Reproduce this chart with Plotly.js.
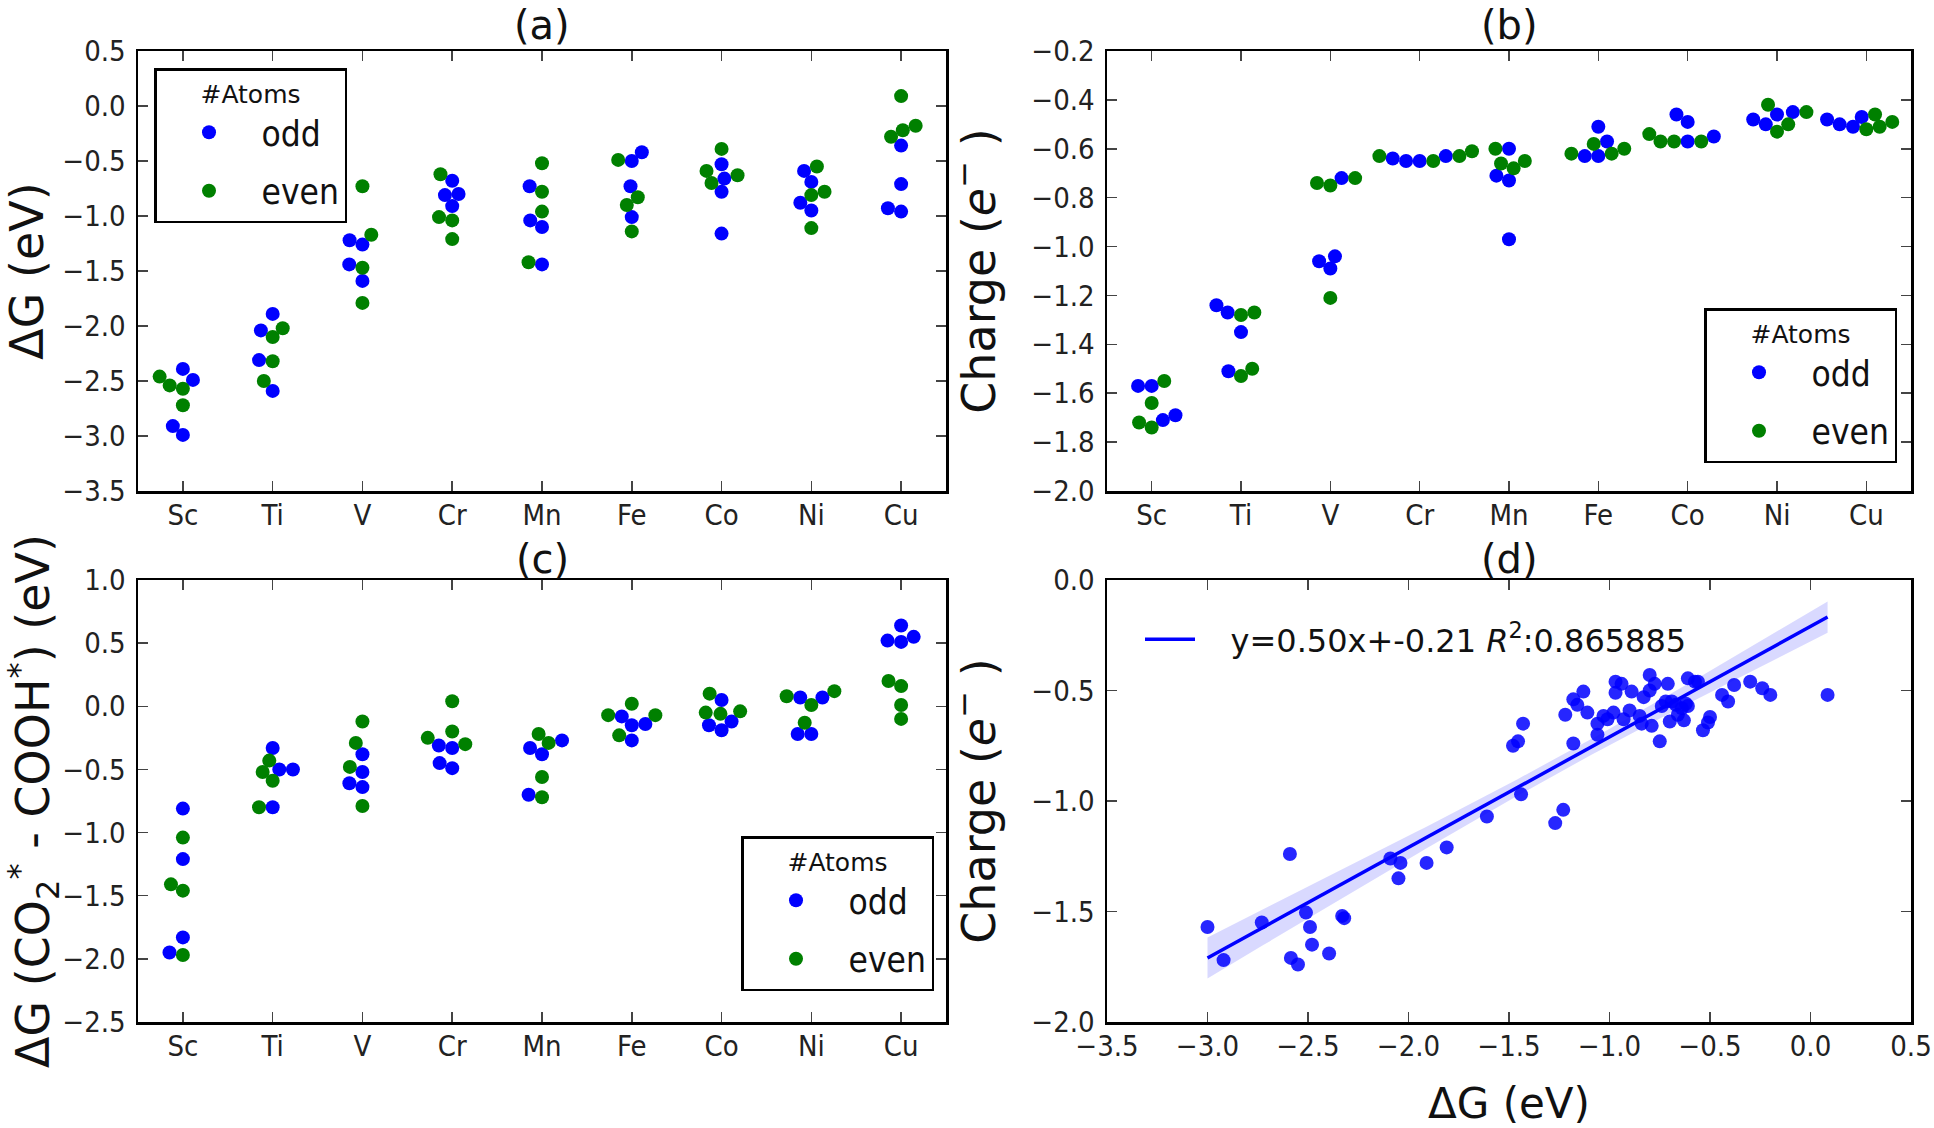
<!DOCTYPE html>
<html>
<head>
<meta charset="utf-8">
<script src="https://cdn.plot.ly/plotly-3.0.1.min.js"></script>
<style>html,body{margin:0;padding:0;background:#ffffff;}</style>
</head>
<body>
<div id="chart" style="width:1934px;height:1128px;"></div>
<script>
// ---------------- data ----------------
const categories = ['Sc', 'Ti', 'V', 'Cr', 'Mn', 'Fe', 'Co', 'Ni', 'Cu'];

// (a) ΔG (eV), per element: odd / even number of atoms
const dG_odd = [
  [-2.39, -2.49, -2.91, -2.99],
  [-1.89, -2.04, -2.31, -2.59],
  [-1.22, -1.26, -1.44, -1.59],
  [-0.68, -0.80, -0.81, -0.91],
  [-0.73, -1.04, -1.10, -1.44],
  [-0.42, -0.50, -0.73, -1.01],
  [-0.53, -0.66, -0.78, -1.16],
  [-0.59, -0.69, -0.88, -0.95],
  [-0.36, -0.71, -0.93, -0.96]
];
const dG_even = [
  [-2.46, -2.54, -2.57, -2.72],
  [-2.02, -2.10, -2.32, -2.50],
  [-0.73, -1.17, -1.47, -1.79],
  [-0.62, -1.01, -1.04, -1.21],
  [-0.52, -0.78, -0.96, -1.42],
  [-0.49, -0.83, -0.90, -1.14],
  [-0.39, -0.59, -0.63, -0.70],
  [-0.55, -0.78, -0.81, -1.11],
  [0.09, -0.18, -0.22, -0.28]
];

// (b) Charge (e-)
const charge_odd = [
  [-1.57, -1.57, -1.69, -1.71],
  [-1.24, -1.27, -1.35, -1.51],
  [-0.72, -1.04, -1.06, -1.09],
  [-0.64, -0.65, -0.65, -0.63],
  [-0.60, -0.71, -0.73, -0.97],
  [-0.51, -0.57, -0.63, -0.63],
  [-0.46, -0.49, -0.55, -0.57],
  [-0.45, -0.48, -0.50, -0.46],
  [-0.48, -0.50, -0.51, -0.47]
];
const charge_even = [
  [-1.55, -1.64, -1.72, -1.74],
  [-1.28, -1.27, -1.50, -1.53],
  [-0.72, -0.74, -0.75, -1.21],
  [-0.63, -0.65, -0.61, -0.63],
  [-0.60, -0.65, -0.68, -0.66],
  [-0.60, -0.62, -0.62, -0.58],
  [-0.57, -0.57, -0.57, -0.54],
  [-0.42, -0.45, -0.50, -0.53],
  [-0.46, -0.51, -0.52, -0.49]
];

// (c) ΔG (CO2* - COOH*) (eV)
const dGc_odd = [
  [-0.81, -1.21, -1.83, -1.95],
  [-0.33, -0.50, -0.50, -0.80],
  [-0.38, -0.52, -0.61, -0.64],
  [-0.31, -0.33, -0.45, -0.49],
  [-0.27, -0.33, -0.38, -0.70],
  [-0.08, -0.14, -0.15, -0.27],
  [0.05, -0.12, -0.15, -0.19],
  [0.07, 0.07, -0.22, -0.22],
  [0.64, 0.55, 0.52, 0.51]
];
const dGc_even = [
  [-1.04, -1.41, -1.46, -1.97],
  [-0.43, -0.52, -0.59, -0.80],
  [-0.12, -0.29, -0.48, -0.79],
  [0.04, -0.20, -0.25, -0.30],
  [-0.22, -0.29, -0.56, -0.72],
  [0.02, -0.07, -0.07, -0.23],
  [0.10, -0.04, -0.05, -0.06],
  [0.12, 0.08, 0.01, -0.13],
  [0.20, 0.16, 0.01, -0.10]
];

// (d) scatter: ΔG (eV) vs Charge (e-)
const scatter_dG = [
  -3.00, -2.92, -2.73, -2.59, -2.585, -2.55, -2.51, -2.49, -2.48, -2.395,
  -2.33, -2.32, -2.09, -2.05, -2.04, -1.91, -1.81, -1.61, -1.48, -1.455,
  -1.44, -1.43, -1.27, -1.23, -1.22, -1.18, -1.18, -1.16, -1.13, -1.11,
  -1.06, -1.06, -1.03, -1.01, -0.98, -0.97, -0.97, -0.94, -0.93, -0.90,
  -0.89, -0.85, -0.84, -0.83, -0.80, -0.80, -0.79, -0.775, -0.75, -0.74,
  -0.72, -0.71, -0.70, -0.69, -0.67, -0.66, -0.64, -0.63, -0.62, -0.61,
  -0.61, -0.575, -0.56, -0.535, -0.51, -0.50, -0.44, -0.41, -0.38, -0.30,
  -0.24, -0.20, 0.085
];
const scatter_charge = [
  -1.57, -1.72, -1.55, -1.24, -1.71, -1.74, -1.505, -1.57, -1.65, -1.69,
  -1.52, -1.53, -1.26, -1.35, -1.28, -1.28, -1.21, -1.07, -0.75, -0.73,
  -0.97, -0.65, -1.10, -1.04, -0.61, -0.54, -0.74, -0.565, -0.505, -0.60,
  -0.65, -0.70, -0.615, -0.63, -0.60, -0.46, -0.51, -0.47, -0.63, -0.59,
  -0.505, -0.615, -0.65, -0.53, -0.43, -0.50, -0.66, -0.47, -0.73, -0.57,
  -0.55, -0.47, -0.64, -0.55, -0.565, -0.61, -0.58, -0.635, -0.56, -0.445,
  -0.57, -0.46, -0.46, -0.68, -0.645, -0.62, -0.52, -0.55, -0.475, -0.46,
  -0.49, -0.52, -0.52
];
// fit coefficients as printed in the legend
const fitSlope = 0.50;
const fitIntercept = -0.21;
const fitLabel = '\u00a0\u00a0\u00a0y=0.50x+-0.21 <i>R</i><sup>2</sup>:0.865885';

// ---------------- layout constants ----------------
const W = 1934, H = 1128;
const dom = {
  xL: [138 / W, 946 / W],
  xR: [1107 / W, 1911 / W],
  yT: [1 - 491 / H, 1 - 51 / H],
  yB: [1 - 1022 / H, 1 - 580 / H]
};
const rangeA = [-3.5, 0.5], rangeB = [-2.0, -0.2], rangeC = [-2.5, 1.0];
const rangeDx = [-3.5, 0.5], rangeDy = [-2.0, 0.0];
const DOT = 13;       // swarm spacing diameter (px)
const MSIZE = 14;     // drawn marker diameter (px)
const BLUE = '#0000ff', GREEN = '#008000';
const TICKFONT = {family: 'DejaVu Sans Condensed, Liberation Sans Narrow, DejaVu Sans, sans-serif', size: 29, color: '#222222'};
const YLABELFONT = {family: 'DejaVu Sans, sans-serif', size: 46, color: '#111111'};
const XLABELFONT = {family: 'DejaVu Sans, sans-serif', size: 42, color: '#111111'};

const pxPerCat = (dom.xL[1] - dom.xL[0]) * W / categories.length;
function pxPerUnit(yd, r) { return (yd[1] - yd[0]) * H / (r[1] - r[0]); }

// beeswarm (same procedure as seaborn's swarmplot), in pixel space
function swarmOffsets(vals, ppu, d) {
  const idx = vals.map((_, i) => i).sort((a, b) => vals[a].v - vals[b].v);
  const placed = [];
  for (const i of idx) {
    const y = vals[i].v * ppu;
    if (placed.length === 0) { placed.push({x: 0, y: y, i: i}); continue; }
    const nb = [];
    for (let k = placed.length - 1; k >= 0; k--) {
      if (y - placed[k].y < d) nb.unshift(placed[k]); else break;
    }
    let cands = [0];
    let leftFirst = true;
    for (const n of nb) {
      const dy = y - n.y;
      const dx = Math.sqrt(Math.max(d * d - dy * dy, 0)) * 1.05;
      if (leftFirst) cands.push(n.x - dx, n.x + dx); else cands.push(n.x + dx, n.x - dx);
      leftFirst = !leftFirst;
    }
    cands = cands.map((c, j) => [c, j])
      .sort((a, b) => (Math.abs(a[0]) - Math.abs(b[0])) || (a[1] - b[1]))
      .map(a => a[0]);
    let chosen = cands[0];
    for (const c of cands) {
      if (nb.every(n => (n.x - c) * (n.x - c) + (n.y - y) * (n.y - y) >= d * d - 1e-9)) { chosen = c; break; }
    }
    placed.push({x: chosen, y: y, i: i});
  }
  const out = new Array(vals.length);
  placed.forEach(p => { out[p.i] = p.x; });
  return out;
}

function swarmTraces(oddArr, evenArr, ppu, xa, ya, legendId) {
  const ox = [], oy = [], ex = [], ey = [];
  categories.forEach((c, ci) => {
    const vals = oddArr[ci].map(v => ({v: v, g: 'o'})).concat(evenArr[ci].map(v => ({v: v, g: 'e'})));
    const offs = swarmOffsets(vals, ppu, DOT);
    vals.forEach((p, k) => {
      const x = ci + offs[k] / pxPerCat;
      if (p.g === 'o') { ox.push(x); oy.push(p.v); } else { ex.push(x); ey.push(p.v); }
    });
  });
  return [
    {type: 'scatter', mode: 'markers', x: ox, y: oy, xaxis: xa, yaxis: ya, name: 'odd',
     legend: legendId, legendgroup: legendId + 'odd', marker: {color: BLUE, size: MSIZE}, hoverinfo: 'y'},
    {type: 'scatter', mode: 'markers', x: ex, y: ey, xaxis: xa, yaxis: ya, name: 'even',
     legend: legendId, legendgroup: legendId + 'even', marker: {color: GREEN, size: MSIZE}, hoverinfo: 'y'}
  ];
}

let traces = [];
traces = traces.concat(swarmTraces(dG_odd, dG_even, pxPerUnit(dom.yT, rangeA), 'x', 'y', 'legend'));
traces = traces.concat(swarmTraces(charge_odd, charge_even, pxPerUnit(dom.yT, rangeB), 'x2', 'y2', 'legend2'));
traces = traces.concat(swarmTraces(dGc_odd, dGc_even, pxPerUnit(dom.yB, rangeC), 'x3', 'y3', 'legend3'));

// (d) regression band (95% CI) + line + scatter
const n = scatter_dG.length;
const xm = scatter_dG.reduce((a, b) => a + b, 0) / n;
const sxx = scatter_dG.reduce((a, b) => a + (b - xm) * (b - xm), 0);
const sse = scatter_dG.reduce((a, b, i) => { const r = scatter_charge[i] - (fitSlope * b + fitIntercept); return a + r * r; }, 0);
const sres = Math.sqrt(sse / (n - 2));
const tval = 1.994;
const xmin = Math.min(...scatter_dG), xmax = Math.max(...scatter_dG);
const gx = [], gy = [], up = [], lo = [];
for (let k = 0; k <= 100; k++) {
  const x = xmin + (xmax - xmin) * k / 100;
  const y = fitSlope * x + fitIntercept;
  const hw = tval * sres * Math.sqrt(1 / n + (x - xm) * (x - xm) / sxx);
  gx.push(x); gy.push(y); up.push(y + hw); lo.push(y - hw);
}
traces.push({type: 'scatter', mode: 'lines', x: gx.concat(gx.slice().reverse()), y: up.concat(lo.slice().reverse()),
  fill: 'toself', fillcolor: 'rgba(0,0,255,0.15)', line: {width: 0, color: 'rgba(0,0,255,0)'},
  xaxis: 'x4', yaxis: 'y4', showlegend: false, hoverinfo: 'skip'});
traces.push({type: 'scatter', mode: 'markers', x: scatter_dG, y: scatter_charge, xaxis: 'x4', yaxis: 'y4',
  marker: {color: BLUE, size: MSIZE, opacity: 0.85}, showlegend: false});
traces.push({type: 'scatter', mode: 'lines', x: gx, y: gy, xaxis: 'x4', yaxis: 'y4', name: fitLabel,
  line: {color: BLUE, width: 3.5}, legend: 'legend4'});

// ---------------- axes ----------------
function baseAxis(extra) {
  return Object.assign({
    showline: true, linecolor: '#000000', linewidth: 2.5, mirror: 'ticks',
    ticks: 'inside', ticklen: 10, tickwidth: 1.5, tickcolor: '#444444',
    showgrid: false, zeroline: false, tickfont: TICKFONT, ticklabeloverflow: 'allow'
  }, extra);
}
function catAxis(domain, anchor) {
  return baseAxis({domain: domain, anchor: anchor, range: [-0.5, 8.5], tickmode: 'array',
    tickvals: categories.map((c, i) => i), ticktext: categories, ticklabelstandoff: -3});
}
function legendBox(x, y) {
  return {x: x, y: y, xref: 'paper', yref: 'paper', xanchor: 'left', yanchor: 'top',
    bordercolor: '#000000', borderwidth: 2.5, bgcolor: '#ffffff',
    font: {family: TICKFONT.family, size: 35, color: '#111111'},
    title: {text: '#Atoms', side: 'top center', font: {family: 'DejaVu Sans, sans-serif', size: 25, color: '#111111'}},
    itemsizing: 'trace', tracegroupgap: 10, itemwidth: 95};
}

const layout = {
  width: W, height: H,
  margin: {l: 0, r: 0, t: 0, b: 0},
  paper_bgcolor: '#ffffff', plot_bgcolor: '#ffffff',
  font: {family: 'DejaVu Sans, sans-serif'},
  xaxis: catAxis(dom.xL, 'y'),
  yaxis: baseAxis({domain: dom.yT, anchor: 'x', range: rangeA, dtick: 0.5, tick0: 0, tickformat: '.1f',
    ticklabelstandoff: 4, title: {text: 'ΔG (eV)', font: YLABELFONT, standoff: 14}}),
  xaxis2: catAxis(dom.xR, 'y2'),
  yaxis2: baseAxis({domain: dom.yT, anchor: 'x2', range: rangeB, dtick: 0.2, tick0: 0, tickformat: '.1f',
    ticklabelstandoff: 4, title: {text: 'Charge (<i>e</i><sup>−</sup> )', font: YLABELFONT, standoff: 22}}),
  xaxis3: catAxis(dom.xL, 'y3'),
  yaxis3: baseAxis({domain: dom.yB, anchor: 'x3', range: rangeC, dtick: 0.5, tick0: 0, tickformat: '.1f',
    ticklabelstandoff: 4, title: {text: 'ΔG (CO<sub>2</sub><sup>*</sup> - COOH<sup>*</sup>) (eV)', font: YLABELFONT, standoff: 14}}),
  xaxis4: baseAxis({domain: dom.xR, anchor: 'y4', range: rangeDx, dtick: 0.5, tick0: 0, tickformat: '.1f',
    ticklabelstandoff: -3, title: {text: 'ΔG (eV)', font: XLABELFONT, standoff: 30}}),
  yaxis4: baseAxis({domain: dom.yB, anchor: 'x4', range: rangeDy, dtick: 0.5, tick0: 0, tickformat: '.1f',
    ticklabelstandoff: 4, title: {text: 'Charge (<i>e</i><sup>−</sup> )', font: YLABELFONT, standoff: 22}}),
  legend: legendBox(154 / W, 1 - 68 / H),
  legend2: legendBox(1704 / W, 1 - 308 / H),
  legend3: legendBox(741 / W, 1 - 836 / H),
  legend4: {x: 1140 / W, y: 1 - 612 / H, xref: 'paper', yref: 'paper', xanchor: 'left', yanchor: 'top',
    borderwidth: 0, bgcolor: 'rgba(255,255,255,0)', itemwidth: 50,
    font: {family: 'DejaVu Sans, sans-serif', size: 32, color: '#111111'}},
  annotations: [
    {text: '(a)', xref: 'x domain', yref: 'y domain', x: 0.5, y: 1, yanchor: 'middle', yshift: 26, showarrow: false,
     font: {family: 'DejaVu Sans, sans-serif', size: 40, color: '#111111'}},
    {text: '(b)', xref: 'x2 domain', yref: 'y2 domain', x: 0.5, y: 1, yanchor: 'middle', yshift: 26, showarrow: false,
     font: {family: 'DejaVu Sans, sans-serif', size: 40, color: '#111111'}},
    {text: '(c)', xref: 'x3 domain', yref: 'y3 domain', x: 0.5, y: 1, yanchor: 'middle', yshift: 21, showarrow: false,
     font: {family: 'DejaVu Sans, sans-serif', size: 40, color: '#111111'}},
    {text: '(d)', xref: 'x4 domain', yref: 'y4 domain', x: 0.5, y: 1, yanchor: 'middle', yshift: 21, showarrow: false,
     font: {family: 'DejaVu Sans, sans-serif', size: 40, color: '#111111'}}
  ]
};

Plotly.newPlot('chart', traces, layout, {displayModeBar: false, staticPlot: true});
</script>
</body>
</html>
